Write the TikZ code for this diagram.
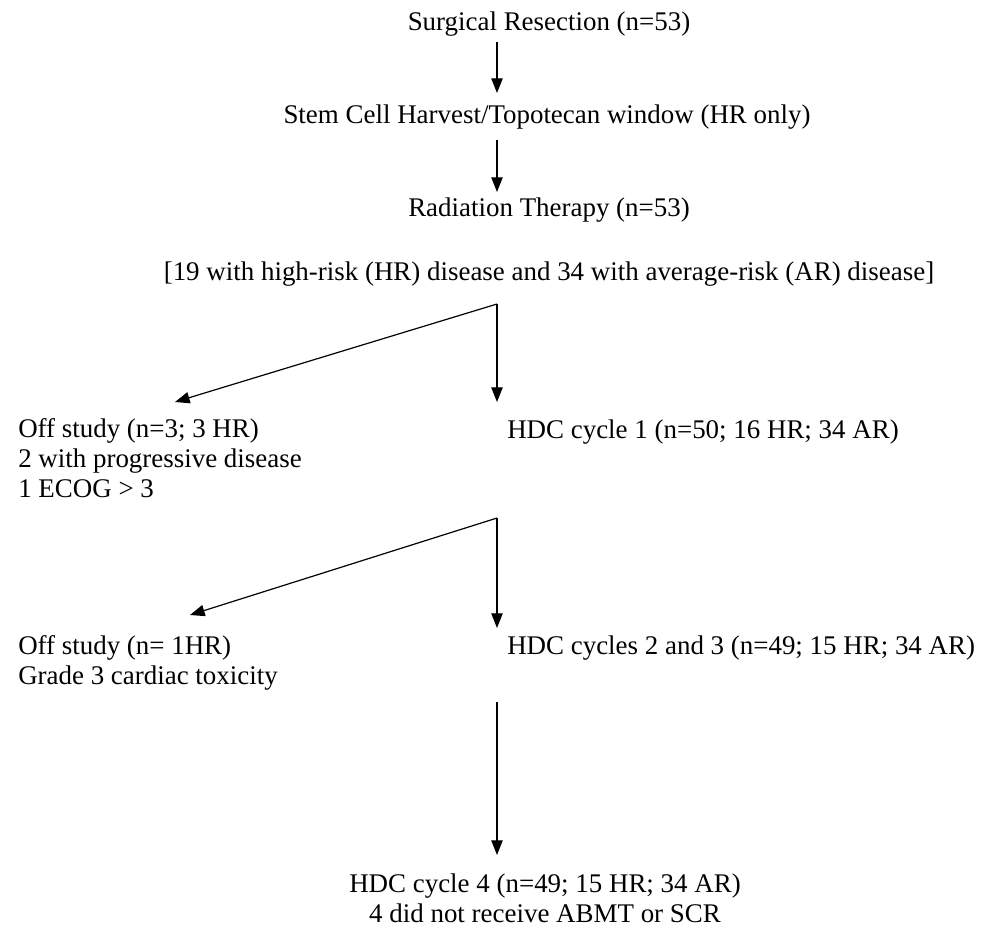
\documentclass[tikz,border=0pt]{standalone}
\usepackage{fontspec}
\setmainfont{Liberation Serif}
\usetikzlibrary{arrows.meta}
\begin{document}
\begin{tikzpicture}[x=0.75pt,y=-0.75pt,
  lbl/.style={inner sep=0pt, font=\fontsize{20.2}{22.5}\selectfont},
  arr/.style={line width=0.9pt, -{Triangle[length=11pt,width=8.5pt]}}]
\useasboundingbox (0,0) rectangle (984,940);
% texts
\node[lbl, anchor=base] (surg) at (549,30) {Surgical Resection (n=53)};
\node[lbl, anchor=base] (stem) at (547,123) {Stem Cell Harvest/Topotecan window (HR only)};
\node[lbl, anchor=base] (rad) at (549,216) {Radiation Therapy (n=53)};
\node[lbl, anchor=base] (risk) at (549,280) {[19 with high-risk (HR) disease and 34 with average-risk (AR) disease]};
\node[lbl, anchor=base west, align=left] (off1) at (18,497) {Off study (n=3; 3 HR)\\2 with progressive disease\\1 ECOG > 3};
\node[lbl, anchor=base west] (hdc1) at (507,438) {HDC cycle 1 (n=50; 16 HR; 34 AR)};
\node[lbl, anchor=base west, align=left] (off2) at (18,684) {Off study (n= 1HR)\\Grade 3 cardiac toxicity};
\node[lbl, anchor=base west] (hdc23) at (507,654) {HDC cycles 2 and 3 (n=49; 15 HR; 34 AR)};
\node[lbl, anchor=base, align=center] (hdc4) at (545,922) {HDC cycle 4 (n=49; 15 HR; 34 AR)\\4 did not receive ABMT or SCR};
% connector ends
\coordinate (s1) at (497,42);   \coordinate (t1) at (497,93);
\coordinate (s2) at (497,140);  \coordinate (t2) at (497,192);
\coordinate (b1) at (497,304);  \coordinate (t3) at (497,402); \coordinate (t4) at (175,402);
\coordinate (b2) at (497,518);  \coordinate (t5) at (497,628); \coordinate (t6) at (190,615);
\coordinate (s3) at (497,702);  \coordinate (t7) at (497,855);
% connectors
\draw[arr] (s1) -- (t1);
\draw[arr] (s2) -- (t2);
\draw[arr] (b1) -- (t3);
\draw[arr] (b1) -- (t4);
\draw[arr] (b2) -- (t5);
\draw[arr] (b2) -- (t6);
\draw[arr] (s3) -- (t7);
\end{tikzpicture}
\end{document}
